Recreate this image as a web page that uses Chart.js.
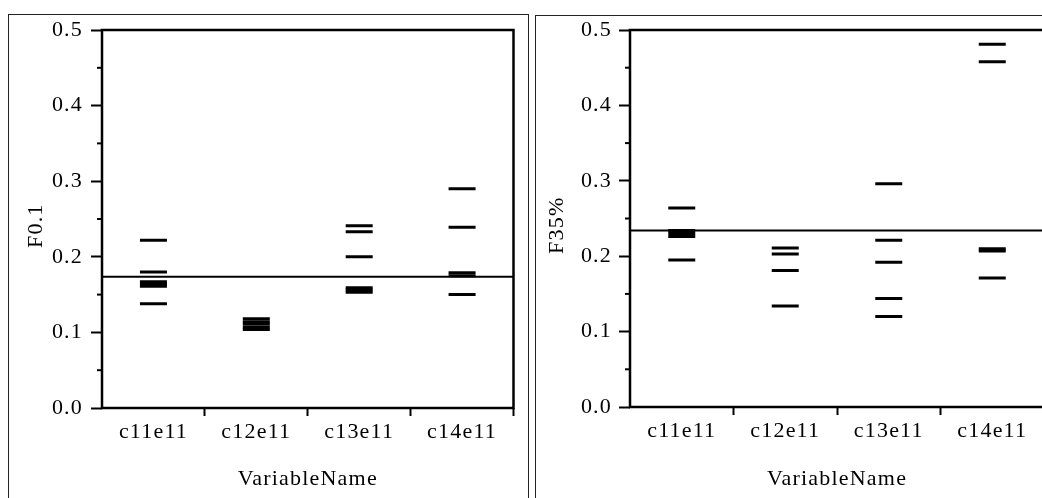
<!DOCTYPE html>
<html>
<head>
<meta charset="utf-8">
<script src="https://cdn.jsdelivr.net/npm/chart.js@4/dist/chart.umd.min.js"></script>
<style>
  html, body { margin: 0; padding: 0; background: #fff; overflow: hidden; width: 1042px; height: 498px; }
  .frame { position: absolute; border: 1px solid #222; }
  canvas { position: absolute; top: 0; }
</style>
</head>
<body>
<div class="frame" style="left:8px; top:14px; width:519px; height:520px;"></div>
<div class="frame" style="left:535px; top:15px; width:560px; height:520px;"></div>
<canvas id="chartF01" width="530" height="498" style="left:0px; width:530px; height:498px;"></canvas>
<canvas id="chartF35" width="530" height="498" style="left:536px; width:530px; height:498px;"></canvas>
<script>
const categories = ['c11e11', 'c12e11', 'c13e11', 'c14e11']

// F0.1 estimates per scenario
const f01Values = [
  [0.222, 0.180, 0.167, 0.164, 0.161, 0.138],
  [0.118, 0.114, 0.111, 0.107, 0.104],
  [0.241, 0.233, 0.200, 0.159, 0.156, 0.153],
  [0.290, 0.239, 0.179, 0.175, 0.150]
]
const f01Mean = 0.1735

// F35% estimates per scenario
const f35Values = [
  [0.264, 0.234, 0.230, 0.226, 0.195],
  [0.211, 0.203, 0.181, 0.134],
  [0.296, 0.221, 0.192, 0.144, 0.120],
  [0.481, 0.458, 0.210, 0.207, 0.171]
]
const f35Mean = 0.234

const yMajorStep = 0.1
const yMinorTicks = [0.05, 0.15, 0.25, 0.35, 0.45]

const serif = 'Liberation Serif'

// box around the plot, mean line and the small in-between ticks
const panelDecor = {
  id: 'panelDecor',
  beforeDraw(chart) {
    // slightly spaced-out lettering for all the text
    chart.ctx.letterSpacing = '1.2px'
  },
  beforeDatasetsDraw(chart, args, opts) {
    const { ctx, chartArea } = chart
    const y = chart.scales.y.getPixelForValue(opts.mean)
    ctx.save()
    ctx.strokeStyle = '#000'
    ctx.lineWidth = 2
    ctx.beginPath()
    ctx.moveTo(chartArea.left, y)
    ctx.lineTo(chartArea.right, y)
    ctx.stroke()
    ctx.restore()
  },
  afterDraw(chart) {
    const { ctx, chartArea } = chart
    const yScale = chart.scales.y
    ctx.save()
    ctx.strokeStyle = '#000'
    ctx.lineWidth = 2.5
    ctx.strokeRect(chartArea.left, chartArea.top, chartArea.right - chartArea.left, chartArea.bottom - chartArea.top)
    ctx.lineWidth = 2
    yMinorTicks.forEach(v => {
      const y = yScale.getPixelForValue(v)
      ctx.beginPath()
      ctx.moveTo(chartArea.left - 5, y)
      ctx.lineTo(chartArea.left, y)
      ctx.stroke()
    })
    ctx.restore()
  }
}

function toPoints(values) {
  const pts = []
  values.forEach((list, i) => list.forEach(v => pts.push({ x: categories[i], y: v })))
  return pts
}

function makeChart(id, values, mean, yTitle, layout) {
  const ctx = document.getElementById(id).getContext('2d')
  return new Chart(ctx, {
    type: 'line',
    data: {
      labels: categories,
      datasets: [{
        data: toPoints(values),
        showLine: false,
        pointStyle: 'line',
        pointRadius: 13.5,
        pointBorderWidth: 3,
        borderColor: '#000',
        backgroundColor: '#000'
      }]
    },
    options: {
      responsive: false,
      animation: false,
      events: [],
      layout: { padding: { left: 0, top: 30, right: layout.padRight, bottom: 0 } },
      plugins: {
        legend: { display: false },
        tooltip: { enabled: false },
        panelDecor: { mean: mean }
      },
      scales: {
        x: {
          type: 'category',
          offset: true,
          grid: {
            offset: true,
            drawOnChartArea: false,
            tickLength: 8,
            tickWidth: 2,
            tickColor: c => (c.index === 0 ? 'rgba(0,0,0,0)' : '#000')
          },
          border: { display: false },
          ticks: { color: '#000', padding: 3, font: { family: serif, size: 22 } },
          title: {
            display: true,
            text: 'VariableName',
            color: '#000',
            font: { family: serif, size: 22 },
            padding: { top: 0, bottom: 6 }
          },
          afterFit: s => { s.height = layout.xHeight }
        },
        y: {
          min: 0,
          max: 0.5,
          grid: { drawOnChartArea: false, tickLength: 11, tickWidth: 2, tickColor: '#000' },
          border: { display: false },
          ticks: {
            stepSize: yMajorStep,
            color: '#000',
            padding: layout.yPad,
            font: { family: serif, size: 22 },
            callback: v => v.toFixed(1)
          },
          title: {
            display: true,
            // trailing spaces push the rotated title a little below the middle
            text: yTitle + '\u00a0\u00a0',
            color: '#000',
            font: { family: serif, size: 22 },
            padding: { top: layout.titlePad, bottom: 0 }
          },
          afterFit: s => { s.width = layout.yWidth }
        }
      }
    },
    plugins: [panelDecor]
  })
}

makeChart('chartF01', f01Values, f01Mean, 'F0.1', { padRight: 13, xHeight: 90, yWidth: 102, yPad: 8, titlePad: 23 })
makeChart('chartF35', f35Values, f35Mean, 'F35%', { padRight: 22, xHeight: 91, yWidth: 94, yPad: 7, titlePad: 8 })
</script>
</body>
</html>
